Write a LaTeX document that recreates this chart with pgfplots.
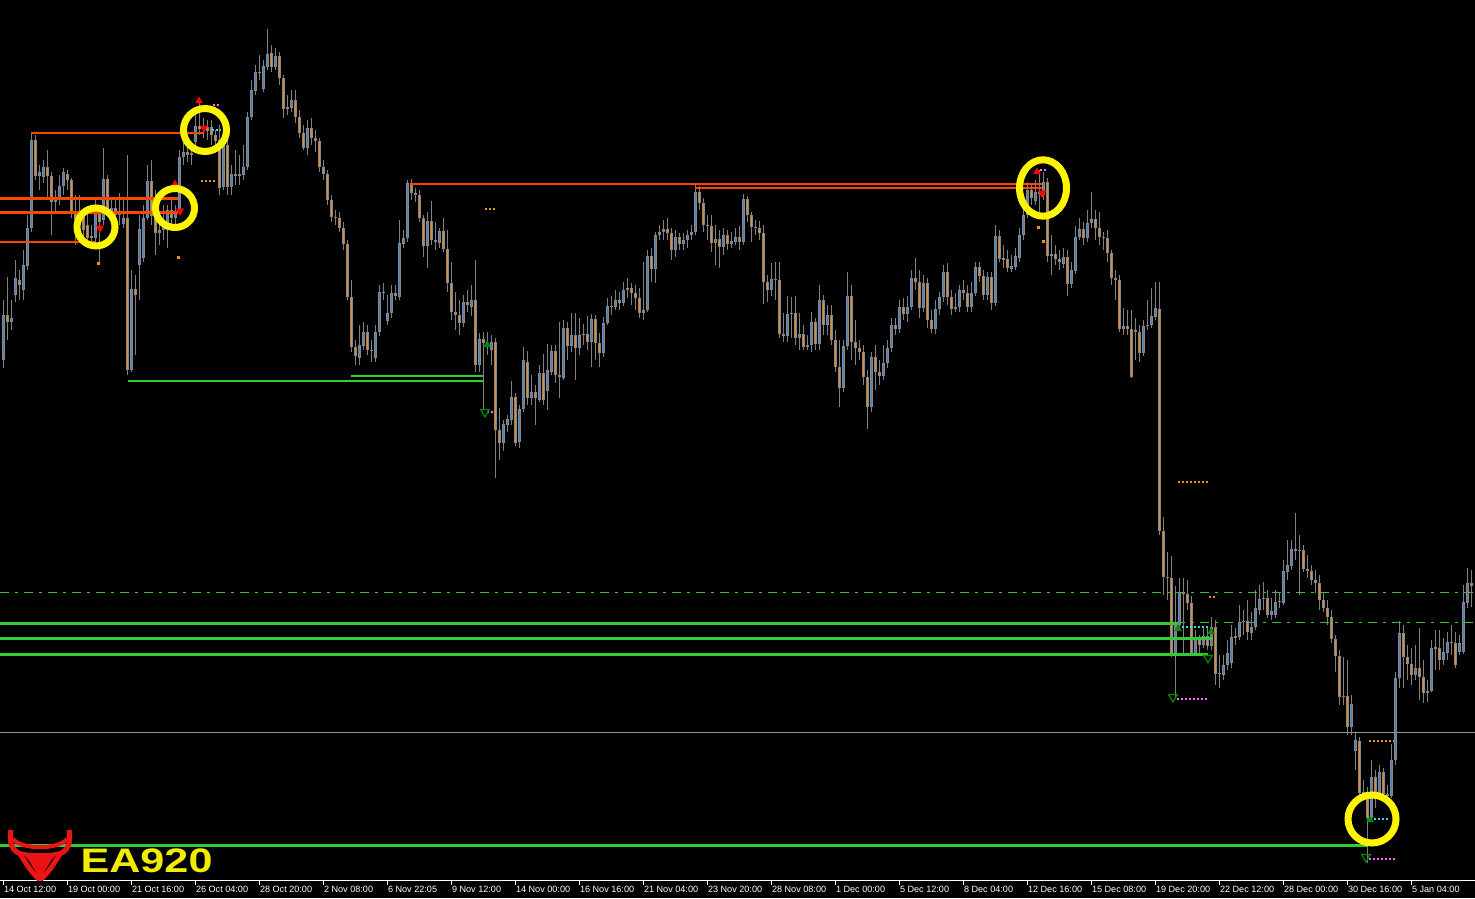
\documentclass[border=0pt]{standalone}
\usepackage{pgfplots}
\usepackage{pgfplotstable}
\pgfplotsset{compat=1.18}
\usepackage{fontspec}
\setmainfont{Liberation Sans}
\definecolor{wickgray}{RGB}{128,128,128}
\definecolor{bodygray}{RGB}{135,135,135}
\definecolor{upblue}{RGB}{70,130,195}
\definecolor{downorange}{RGB}{225,140,40}
\definecolor{lvred}{RGB}{255,69,0}
\definecolor{lvgreen}{RGB}{50,205,50}
\definecolor{ddgreen}{RGB}{60,190,60}
\definecolor{ringyellow}{RGB}{255,245,0}
\definecolor{logoyellow}{RGB}{240,236,0}
\definecolor{dotorange}{RGB}{230,150,30}
\definecolor{dotmag}{RGB}{255,110,255}
\definecolor{dotcyan}{RGB}{60,220,220}
\definecolor{arrgreen}{RGB}{0,140,0}
\definecolor{logored}{RGB}{235,20,20}

% candle data: open high low close, in chart rows (0 = top of the chart, 881 = time axis)
\pgfplotstableread{
o h l c
360 300 368 315
315 277 340 322
322 300 330 318
295 260 302 278
280 270 300 285
290 250 300 265
266 215 270 228
228 134 232 140
140 135 180 176
176 165 190 172
177 160 183 167
167 150 200 176
176 172 235 202
202 190 212 200
200 175 205 186
186 168 195 172
174 170 190 180
180 178 218 212
212 195 245 220
220 195 230 215
215 212 245 230
225 210 242 238
238 225 245 236
238 200 245 213
213 205 263 222
220 148 225 179
179 175 215 212
212 200 218 208
208 198 228 215
215 193 225 213
224 200 228 218
218 155 375 370
370 270 372 289
289 275 355 295
265 215 300 229
258 205 262 218
218 165 220 181
181 160 225 216
197 190 255 233
233 215 245 230
230 205 240 226
230 205 248 210
210 200 225 218
218 205 228 212
212 150 215 157
157 140 165 152
152 140 162 155
155 145 165 153
142 115 150 126
126 100 135 129
129 118 138 127
127 120 140 131
127 120 145 135
135 130 148 141
140 125 195 188
187 130 190 145
145 135 195 187
187 165 195 174
174 150 185 176
176 155 185 174
175 145 180 167
167 112 170 117
117 80 120 90
91 65 95 72
72 55 80 73
89 60 92 66
67 29 70 54
53 45 72 67
67 48 70 56
56 52 85 78
78 75 118 109
109 95 115 107
108 90 112 100
100 90 123 117
117 110 138 133
133 125 150 148
148 120 155 128
128 118 145 138
138 130 152 141
141 138 172 167
167 160 180 174
174 170 205 200
200 195 222 217
217 210 225 218
218 212 232 228
228 222 250 244
244 240 300 297
297 280 352 347
347 340 365 356
358 325 365 345
346 322 350 332
332 325 355 350
350 340 362 351
358 325 362 332
332 285 336 292
292 283 300 293
321 295 325 313
313 285 318 293
293 285 300 296
297 220 300 243
244 230 248 238
238 180 242 183
183 179 200 193
193 188 202 195
195 190 222 218
218 215 257 246
246 212 268 221
221 201 245 240
240 222 250 242
243 228 248 231
231 218 252 249
249 230 292 283
283 262 320 312
312 292 330 315
315 300 335 323
323 295 327 302
302 290 312 305
307 285 316 300
300 260 372 365
365 333 372 339
339 332 410 343
343 332 355 347
350 335 365 342
342 338 478 430
430 408 460 443
443 420 451 424
425 415 432 419
420 381 425 397
397 393 446 443
442 405 448 409
409 347 412 360
362 351 405 398
398 375 405 392
392 385 425 398
400 365 402 373
373 354 405 400
391 344 410 370
372 345 375 351
351 345 383 375
375 322 398 377
378 320 380 328
328 322 360 346
346 313 352 335
335 313 380 348
348 318 355 335
335 324 345 334
334 316 350 342
342 314 367 319
319 315 360 343
343 333 367 353
353 317 357 323
323 298 325 306
306 296 315 307
307 290 310 300
300 292 310 303
303 282 306 290
290 278 298 288
288 283 305 293
293 285 310 298
298 288 318 313
313 262 320 310
310 250 312 256
256 248 282 269
269 232 283 235
235 225 240 232
232 220 240 229
229 218 240 233
233 228 260 250
250 230 257 237
237 233 250 244
244 233 250 240
240 230 248 235
235 225 240 232
232 183 235 192
192 186 210 203
203 198 232 225
225 215 240 226
226 215 252 243
243 225 265 239
239 230 268 247
247 228 255 235
235 230 250 244
244 232 248 241
242 228 245 237
237 226 250 242
242 194 245 199
199 196 222 215
215 212 242 227
227 220 235 228
228 221 240 233
233 225 304 282
282 275 302 290
290 263 296 279
279 262 300 280
280 262 338 334
334 313 342 336
336 296 342 314
314 297 338 313
313 296 345 338
338 313 350 334
334 325 350 347
347 335 350 345
345 312 352 322
322 318 350 344
344 285 350 300
300 295 335 325
325 305 335 315
315 305 345 340
340 330 372 367
367 340 407 388
388 340 392 346
346 272 350 296
296 285 360 342
342 320 365 348
348 340 360 352
352 345 385 377
377 370 429 407
407 352 412 357
357 345 390 372
372 360 385 376
376 345 380 363
363 340 368 348
348 318 352 325
325 318 335 329
329 300 333 307
307 298 320 314
314 296 322 307
307 270 310 278
278 258 290 282
282 270 318 308
308 275 312 283
283 278 328 320
320 310 333 329
329 300 334 309
309 292 315 297
297 265 302 272
272 263 305 297
297 290 315 309
309 293 312 307
307 285 312 290
290 280 300 293
293 285 312 307
307 282 312 293
293 262 296 267
267 262 282 276
276 270 300 295
295 272 300 277
277 272 310 303
303 225 306 236
236 230 262 259
259 245 268 259
259 250 272 268
269 255 272 266
267 248 270 256
258 228 262 235
235 205 240 215
215 182 218 190
190 183 205 198
201 180 205 192
192 170 215 194
195 172 200 182
182 178 262 256
256 235 275 254
254 245 265 259
259 250 270 262
264 248 268 257
257 250 296 284
284 262 288 270
271 226 274 237
237 218 240 229
229 222 245 238
238 210 242 223
223 192 228 219
219 210 240 228
228 212 245 237
237 232 250 238
238 230 262 253
253 250 285 278
278 270 300 280
280 275 332 329
329 308 335 326
326 310 335 329
329 310 378 377
330 318 360 332
332 325 362 353
353 320 356 326
326 300 330 325
325 288 328 316
317 282 320 308
309 282 535 531
531 517 595 577
577 552 600 578
578 556 657 655
655 586 699 625
625 578 630 593
593 578 655 594
594 580 610 603
603 596 655 653
653 630 656 639
639 635 655 645
645 626 648 636
636 628 650 646
646 617 650 627
627 620 685 674
674 655 688 673
675 655 680 665
665 640 670 653
663 625 668 637
637 628 645 637
637 605 640 622
622 610 635 621
621 600 640 632
633 612 640 627
627 590 630 608
610 585 615 599
599 582 610 598
598 590 618 615
615 598 620 611
615 590 618 602
602 592 608 601
603 560 605 571
572 540 580 565
566 540 570 549
549 513 560 551
551 535 595 550
550 545 572 569
569 555 578 571
571 565 585 580
580 570 593 583
583 575 610 600
600 592 612 608
608 600 625 617
617 610 643 639
639 635 672 656
656 650 705 697
697 657 705 696
696 660 735 727
727 695 735 704
751 733 770 740
741 737 800 793
793 780 800 793
793 787 863 818
818 760 822 777
777 770 808 793
793 765 800 772
772 768 800 794
794 785 805 796
796 744 798 760
760 672 765 678
678 621 688 633
633 625 688 657
657 645 680 664
664 648 685 675
675 645 680 668
668 628 700 677
677 660 703 693
693 680 702 691
691 640 692 648
648 630 670 648
648 630 670 660
660 638 665 652
653 632 660 642
642 625 655 643
643 632 668 665
652 635 655 643
652 585 654 602
603 568 608 583
583 570 607 586
}\candles
\pgfplotstablecreatecol[expr={4*\pgfplotstablerow+3}]{x}{\candles}

\begin{document}
\begin{tikzpicture}
\fill[black] (0,-8.5pt) rectangle (737.5pt,440.5pt);
\begin{axis}[
  scale only axis, width=737.5pt, height=440.5pt,
  xmin=0, xmax=1475, ymin=0, ymax=881,
  axis x line*=bottom, axis y line=none,
  x axis line style={white, line width=0.5pt, -},
  xtick={3,67,...,1411},
  xticklabels={14 Oct 12:00, 19 Oct 00:00, 21 Oct 16:00, 26 Oct 04:00, 28 Oct 20:00, 2 Nov 08:00, 6 Nov 22:05, 9 Nov 12:00, 14 Nov 00:00, 16 Nov 16:00, 21 Nov 04:00, 23 Nov 20:00, 28 Nov 08:00, 1 Dec 00:00, 5 Dec 12:00, 8 Dec 04:00, 12 Dec 16:00, 15 Dec 08:00, 19 Dec 20:00, 22 Dec 12:00, 28 Dec 00:00, 30 Dec 16:00, 5 Jan 04:00},
  xtick style={white, line width=0.5pt},
  major tick length=2pt, tick align=outside,
  xticklabel style={anchor=north west, inner sep=0pt, text=white, font=\fontsize{4.55pt}{5pt}\selectfont, xshift=0.3pt, yshift=-0.6pt},
  every axis plot/.append style={forget plot},
  candle/.style={draw=none, mark=none, error bars/y dir=both, error bars/y explicit, error bars/error mark=none},
  dotseg/.style={line width=1pt, dash pattern=on 1pt off 1pt},
]
% background guide lines
\addplot[ddgreen, line width=0.5pt, dash pattern=on 4.5pt off 3pt on 1.5pt off 3pt] coordinates {(0,288) (1475,288)};
\addplot[ddgreen, line width=0.5pt, dash pattern=on 4.5pt off 3pt on 1.5pt off 3pt] coordinates {(0,258) (1475,258)};
\addplot[gray!80, line width=0.5pt] coordinates {(0,148) (1475,148)};

% candles: wicks
\addplot[candle, error bars/error bar style={draw=wickgray, line width=0.5pt, solid}]
  table[x=x, y expr={881-0.5*(\thisrow{h}+\thisrow{l})}, y error expr={0.5*(\thisrow{l}-\thisrow{h})}] {\candles};
% candle bodies (outline)
\addplot[candle, error bars/error bar style={draw=bodygray, line width=1.5pt, solid}]
  table[x=x, y expr={881-0.5*(\thisrow{o}+\thisrow{c})}, y error expr={max(0.5*abs(\thisrow{o}-\thisrow{c}),0.5)}] {\candles};
% rising bodies
\addplot[candle, restrict expr to domain={\thisrow{o}-\thisrow{c}}{2.5:10000}, error bars/error bar style={draw=upblue, line width=0.5pt, solid}]
  table[x=x, y expr={881-0.5*(\thisrow{o}+\thisrow{c})}, y error expr={0.5*abs(\thisrow{o}-\thisrow{c})-1}] {\candles};
% falling bodies
\addplot[candle, restrict expr to domain={\thisrow{c}-\thisrow{o}}{2.5:10000}, error bars/error bar style={draw=downorange, line width=0.5pt, solid}]
  table[x=x, y expr={881-0.5*(\thisrow{o}+\thisrow{c})}, y error expr={0.5*abs(\thisrow{o}-\thisrow{c})-1}] {\candles};

% resistance lines
\addplot[lvred, line width=1pt] coordinates {(31,748) (203,748)};
\addplot[lvred, line width=1.5pt] coordinates {(0,682) (178,682)};
\addplot[lvred, line width=1.5pt] coordinates {(0,668) (178,668)};
\addplot[lvred, line width=1pt] coordinates {(0,639) (95,639)};
\addplot[lvred, line width=1pt] coordinates {(410,697) (1042,697)};
\addplot[lvred, line width=1pt] coordinates {(695,692.5) (1042,692.5)};
% support lines
\addplot[lvgreen, line width=1pt] coordinates {(128,500) (483,500)};
\addplot[lvgreen, line width=1pt] coordinates {(351,504.5) (483,504.5)};
\addplot[lvgreen, line width=1.5pt] coordinates {(0,257) (1178,257)};
\addplot[lvgreen, line width=1.5pt] coordinates {(0,242) (1212,242)};
\addplot[lvgreen, line width=1.5pt] coordinates {(0,226.5) (1208,226.5)};
\addplot[lvgreen, line width=1.5pt] coordinates {(0,35) (1368,35)};

% dotted level marks
\addplot[dotorange, dotseg] coordinates {(201,700) (217,700)};
\addplot[dotorange, dotseg] coordinates {(485,672) (497,672)};
\addplot[dotorange, dotseg] coordinates {(1178,399) (1209,399)};
\addplot[dotorange, dotseg] coordinates {(1209,284) (1216,284)};
\addplot[dotorange, dotseg] coordinates {(1369,140) (1394,140)};
\addplot[dotorange, only marks, mark=square*, mark size=0.5pt] coordinates {(98,618) (178,624) (1038,654) (1043,640)};
\addplot[dotmag, dotseg] coordinates {(1177,182) (1208,182)};
\addplot[dotmag, dotseg] coordinates {(1369,22) (1396,22)};
\addplot[dotmag, dotseg] coordinates {(487,469) (493,469)};
\addplot[dotmag, dotseg] coordinates {(213,776) (221,776)};
\addplot[dotmag, dotseg] coordinates {(1040,711) (1048,711)};
\addplot[dotcyan, dotseg] coordinates {(1182,254) (1208,254)};
\addplot[dotcyan, dotseg] coordinates {(1370,62) (1389,62)};
\addplot[dotcyan, dotseg] coordinates {(212,751) (221,751)};

% signal arrows
\addplot[only marks, mark=triangle*, mark size=2pt, mark options={fill=red, draw=red, rotate=180}] coordinates {(100,653) (180,670) (204,753) (1042,688)};
\addplot[only marks, mark=triangle*, mark size=1.8pt, mark options={fill=red, draw=red}] coordinates {(199,780) (1037,709) (175,697)};
\addplot[only marks, mark=triangle, mark size=2.5pt, mark options={draw=arrgreen, line width=0.6pt, rotate=180}] coordinates {(1173,184) (1208,223) (1366,24) (485,469)};
\addplot[only marks, mark=triangle*, mark size=1.8pt, mark options={fill=arrgreen, draw=arrgreen}] coordinates {(1178,252) (1211,249) (1370,61) (487,536)};

% highlight rings
\addplot[only marks, mark=o, mark size=9.5pt, mark options={draw=ringyellow, line width=3.5pt}] coordinates {(96,654)};
\addplot[only marks, mark=o, mark size=9.75pt, mark options={draw=ringyellow, line width=3.5pt}] coordinates {(175,673)};
\addplot[only marks, mark=o, mark size=10.75pt, mark options={draw=ringyellow, line width=3.5pt}] coordinates {(205,751)};
\addplot[only marks, mark=o, mark size=11.75pt, mark options={draw=ringyellow, line width=3.5pt, yscale=1.2}] coordinates {(1043,693)};
\addplot[only marks, mark=o, mark size=12pt, mark options={draw=ringyellow, line width=3.5pt}] coordinates {(1372,62)};

% logo
\draw[logored, line width=2.5pt] (axis cs:11,51) .. controls (axis cs:8,36) and (axis cs:14,30) .. (axis cs:20,27) .. controls (axis cs:28,14) and (axis cs:34,6) .. (axis cs:40,1);
\draw[logored, line width=2.5pt] (axis cs:69,51) .. controls (axis cs:72,36) and (axis cs:66,30) .. (axis cs:60,27) .. controls (axis cs:52,14) and (axis cs:46,6) .. (axis cs:40,1);
\draw[logored, line width=2pt] (axis cs:13,42) .. controls (axis cs:22,31) and (axis cs:58,31) .. (axis cs:67,42);
\fill[logored] (axis cs:19,30) -- (axis cs:30,28) -- (axis cs:50,28) -- (axis cs:61,30) -- (axis cs:52,22) -- (axis cs:41,4) -- (axis cs:39,4) -- (axis cs:28,22) -- cycle;
\node[anchor=west, inner sep=0pt, text=logoyellow, xscale=1.27] at (axis cs:80,20.5) {\fontsize{17pt}{17pt}\selectfont\bfseries EA920};
\end{axis}
\pgfresetboundingbox
\path (0,-8.5pt) rectangle (737.5pt,440.5pt);
\end{tikzpicture}
\end{document}
